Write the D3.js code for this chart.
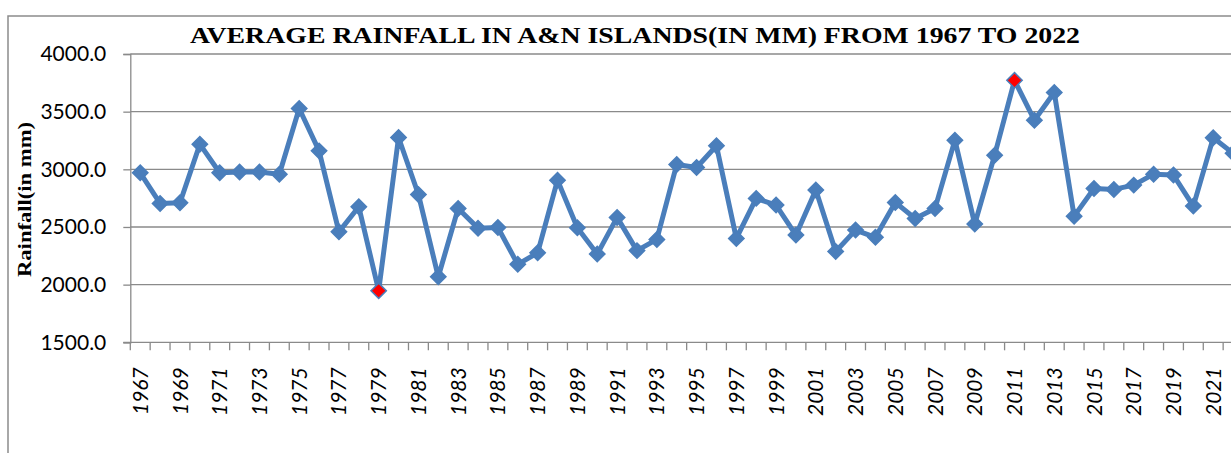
<!DOCTYPE html>
<html>
<head>
<meta charset="utf-8">
<script src="https://cdn.jsdelivr.net/npm/d3@7"></script>
<style>
  html, body { margin: 0; padding: 0; background: #fff; overflow: hidden; }
  .tick-y { font-family: Lato, "Open Sans", sans-serif; font-size: 21px; fill: #000; }
  .tick-x { font-family: Lato, "Open Sans", sans-serif; font-size: 21px; font-style: italic; fill: #000; }
  .serif { font-family: "Liberation Serif", "DejaVu Serif", serif; font-weight: bold; fill: #000; }
</style>
</head>
<body>
<div id="chart"></div>
<script>
var width = 1231;
var height = 453;

// data
var years = [];
for (var yr = 1967; yr <= 2022; yr++) years.push(String(yr));

var rainfall = [
  2970, 2704, 2710, 3218, 2970, 2976, 2976, 2958, 3527, 3160,
  2458, 2675, 1947, 3276, 2782, 2068, 2661, 2490, 2495, 2176,
  2276, 2906, 2493, 2265, 2583, 2295, 2392, 3042, 3016, 3204,
  2401, 2748, 2690, 2430, 2820, 2288, 2473, 2410, 2713, 2574,
  2661, 3253, 2525, 3123, 3772, 3426, 3666, 2594, 2834, 2826,
  2863, 2958, 2950, 2681, 3273, 3140
];

var yTicks = [1500, 2000, 2500, 3000, 3500, 4000];
var labelYears = years.filter(function(d, i) { return i % 2 === 0; });

var plot = {left: 130.3, top: 54, bottom: 342.3, band: 19.87};

var svg = d3.select("#chart")
  .append("svg")
  .attr("width", width)
  .attr("height", height);

var x = d3.scaleBand()
  .domain(years)
  .range([plot.left, plot.left + plot.band * years.length])
  .padding(0);

var y = d3.scaleLinear()
  .domain([1500, 4000])
  .range([plot.bottom, plot.top]);

// outer chart frame (only left and top visible)
svg.append("path")
  .attr("d", "M8,453 L8,16 L1231,16")
  .attr("fill", "none")
  .attr("stroke", "#8c8c8c")
  .attr("stroke-width", 1.5);

// gridlines
svg.append("g")
  .selectAll("line")
  .data(yTicks.slice(1))
  .join("line")
  .attr("x1", plot.left)
  .attr("x2", width)
  .attr("y1", function(d) { return y(d); })
  .attr("y2", function(d) { return y(d); })
  .attr("stroke", "#8a8a8a")
  .attr("stroke-width", 1.3);

// y axis
var yAxis = svg.append("g")
  .attr("transform", "translate(" + plot.left + ",0)")
  .call(d3.axisLeft(y).tickValues(yTicks).tickSize(7).tickPadding(17)
    .tickFormat(function(d) { return d3.format(".1f")(d); }));
yAxis.attr("font-size", null).attr("font-family", null);
yAxis.select(".domain").attr("stroke", "#8a8a8a").attr("stroke-width", 1.3);
yAxis.selectAll(".tick line").attr("stroke", "#8a8a8a").attr("stroke-width", 1.3);
yAxis.selectAll(".tick text")
  .attr("class", "tick-y")
  .attr("fill", null);

// x axis: ticks at band edges
var xg = svg.append("g");
xg.append("line")
  .attr("x1", plot.left - 7)
  .attr("x2", width)
  .attr("y1", plot.bottom)
  .attr("y2", plot.bottom)
  .attr("stroke", "#8a8a8a")
  .attr("stroke-width", 1.3);
xg.selectAll("line.tk")
  .data(years)
  .join("line")
  .attr("class", "tk")
  .attr("x1", function(d) { return x(d); })
  .attr("x2", function(d) { return x(d); })
  .attr("y1", plot.bottom)
  .attr("y2", plot.bottom + 8)
  .attr("stroke", "#8a8a8a")
  .attr("stroke-width", 1.3);
xg.selectAll("text")
  .data(labelYears)
  .join("text")
  .attr("class", "tick-x")
  .attr("text-anchor", "end")
  .attr("dy", "0.36em")
  .attr("transform", function(d) {
    return "translate(" + (x(d) + x.bandwidth() / 2) + "," + (plot.bottom + 25) + ") rotate(-90)";
  })
  .text(function(d) { return d; });

// line
var line = d3.line()
  .x(function(d, i) { return x(years[i]) + x.bandwidth() / 2; })
  .y(function(d) { return y(d); });

svg.append("path")
  .datum(rainfall)
  .attr("d", line)
  .attr("fill", "none")
  .attr("stroke", "#4a7ebb")
  .attr("stroke-width", 5)
  .attr("stroke-linejoin", "round");

// diamonds; min and max in red
var minV = d3.min(rainfall), maxV = d3.max(rainfall);
var diamond = d3.symbol().type(d3.symbolSquare).size(118);

svg.append("g")
  .selectAll("path")
  .data(rainfall)
  .join("path")
  .attr("d", diamond)
  .attr("transform", function(d, i) {
    return "translate(" + (x(years[i]) + x.bandwidth() / 2) + "," + y(d) + ") rotate(45)";
  })
  .attr("fill", function(d) { return (d === minV || d === maxV) ? "#ff0000" : "#4a7ebb"; })
  .attr("stroke", "#4a7ebb")
  .attr("stroke-width", 1.5);

// title
svg.append("text")
  .attr("class", "serif")
  .attr("x", 190)
  .attr("y", 43)
  .attr("font-size", 24)
  .attr("textLength", 890)
  .attr("lengthAdjust", "spacingAndGlyphs")
  .text("AVERAGE RAINFALL IN A&N ISLANDS(IN MM) FROM 1967 TO 2022");

// y axis title
svg.append("text")
  .attr("class", "serif")
  .attr("font-size", 18)
  .attr("text-anchor", "middle")
  .attr("transform", "translate(31,199.5) rotate(-90)")
  .attr("textLength", 155)
  .attr("lengthAdjust", "spacingAndGlyphs")
  .text("Rainfall(in mm)");
</script>
</body>
</html>
